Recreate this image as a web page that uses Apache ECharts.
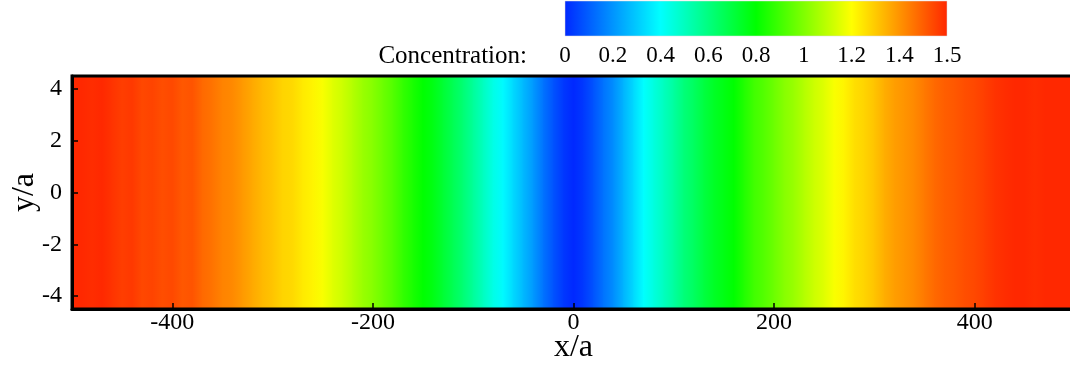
<!DOCTYPE html>
<html>
<head>
<meta charset="utf-8">
<script src="https://cdn.jsdelivr.net/npm/echarts@6/dist/echarts.min.js"></script>
<style>html,body{margin:0;padding:0;background:#fff}#c{width:1070px;height:366px}</style>
</head>
<body>
<div id="c"></div>
<script>
// x/a positions of the concentration profile samples
const xPositions = [-500,-490,-480,-470,-460,-450,-440,-430,-420,-410,-400,-390,-380,-370,-360,-350,-340,-330,-320,-310,-300,-290,-280,-270,-260,-250,-240,-230,-220,-210,-200,-190,-180,-170,-160,-150,-140,-130,-120,-110,-100,-90,-80,-70,-60,-50,-40,-30,-20,-10,0,10,20,30,40,50,60,70,80,90,100,110,120,130,140,150,160,170,180,190,200,210,220,230,240,250,260,270,280,290,300,310,320,330,340,350,360,370,380,390,400,410,420,430,440,450,460,470,480,490,500];
// concentration at each x/a
const concentration = [1.60,1.60,1.59,1.60,1.58,1.56,1.57,1.54,1.55,1.53,1.54,1.51,1.52,1.48,1.46,1.43,1.42,1.39,1.36,1.33,1.31,1.28,1.27,1.24,1.22,1.19,1.15,1.12,1.08,1.04,1.01,0.97,0.93,0.88,0.84,0.80,0.77,0.72,0.67,0.62,0.56,0.50,0.44,0.39,0.33,0.27,0.21,0.14,0.08,0.03,0.00,0.03,0.08,0.14,0.19,0.26,0.33,0.40,0.45,0.50,0.55,0.61,0.65,0.70,0.74,0.77,0.80,0.85,0.90,0.93,0.97,1.01,1.04,1.08,1.12,1.15,1.19,1.22,1.26,1.28,1.31,1.35,1.38,1.40,1.42,1.45,1.48,1.50,1.51,1.53,1.54,1.56,1.58,1.59,1.60,1.60,1.59,1.60,1.60,1.60,1.60];
const yRange = [-4.5, 4.5];
const xTicks = [-400, -200, 0, 200, 400];
const yTicks = [-4, -2, 0, 2, 4];
// colour legend: tick positions on the bar and the text printed there
const cbarTickPos = [0, 0.2, 0.4, 0.6, 0.8, 1, 1.2, 1.4, 1.6];
const cbarTickText = ['0', '0.2', '0.4', '0.6', '0.8', '1', '1.2', '1.4', '1.5'];
const cmapStops = [0, 0.4, 0.8, 1.2, 1.6];
const cmapColors = ['#0028ff', '#00ffff', '#00ff00', '#ffff00', '#ff2800'];
const cMin = 0, cMax = 1.6;

function hexToRgb(h){return [parseInt(h.slice(1,3),16),parseInt(h.slice(3,5),16),parseInt(h.slice(5,7),16)];}
function colorOf(v){
  if (v <= cmapStops[0]) return cmapColors[0];
  for (let i = 1; i < cmapStops.length; i++){
    if (v <= cmapStops[i]){
      const t = (v - cmapStops[i-1]) / (cmapStops[i] - cmapStops[i-1]);
      const a = hexToRgb(cmapColors[i-1]), b = hexToRgb(cmapColors[i]);
      return 'rgb(' + a.map((x,k)=>Math.round(x + (b[k]-x)*t)).join(',') + ')';
    }
  }
  return cmapColors[cmapColors.length-1];
}

const fieldData = [];
for (let i = 0; i < xPositions.length - 1; i++){
  fieldData.push([xPositions[i], concentration[i], xPositions[i+1], concentration[i+1]]);
}

const FONT = 'Liberation Serif';
const chart = echarts.init(document.getElementById('c'), null, {renderer:'canvas'});
chart.setOption({
  animation:false,
  backgroundColor:'#fff',
  grid:[
    {left:72, top:76, width:1003, height:233, show:true, borderColor:'#000', borderWidth:3,
     backgroundColor:'transparent', z:5, outerBoundsMode:'none', containLabel:false},
    {left:565, top:1, width:382, height:35, show:false, outerBoundsMode:'none', containLabel:false}
  ],
  xAxis:[
    {gridIndex:0, type:'value', min:-500, max:500, z:10,
     axisLine:{show:true, onZero:false, lineStyle:{color:'#000', width:3}},
     axisTick:{show:true, inside:true, length:6, customValues:xTicks, lineStyle:{color:'#000', width:1.5}},
     axisLabel:{customValues:xTicks, color:'#000', fontFamily:FONT, fontSize:24, margin:2},
     splitLine:{show:false},
     name:'x/a', nameLocation:'middle', nameGap:23, nameMoveOverlap:false,
     nameTextStyle:{color:'#000', fontFamily:FONT, fontSize:32}},
    {gridIndex:1, type:'value', min:cMin, max:cMax,
     axisLine:{show:false}, axisTick:{show:false}, splitLine:{show:false},
     axisLabel:{customValues:cbarTickPos, color:'#000', fontFamily:FONT, fontSize:23, margin:8,
       formatter:v=>{const i = cbarTickPos.findIndex(p=>Math.abs(p-v)<1e-6); return i>=0?cbarTickText[i]:'';}}}
  ],
  yAxis:[
    {gridIndex:0, type:'value', min:yRange[0], max:yRange[1], z:10,
     axisLine:{show:true, onZero:false, lineStyle:{color:'#000', width:3}},
     axisTick:{show:true, inside:true, length:6, customValues:yTicks, lineStyle:{color:'#000', width:1.5}},
     axisLabel:{customValues:yTicks, color:'#000', fontFamily:FONT, fontSize:24, margin:10},
     splitLine:{show:false},
     name:'y/a', nameLocation:'middle', nameGap:31, nameRotate:90, nameMoveOverlap:false,
     nameTextStyle:{color:'#000', fontFamily:FONT, fontSize:32}},
    {gridIndex:1, type:'value', min:0, max:1, show:false}
  ],
  graphic:[
    {type:'text', right:1070-527, top:44, style:{text:'Concentration:', fill:'#000', font:'25px "Liberation Serif"'}}
  ],
  series:[
    {type:'custom', xAxisIndex:0, yAxisIndex:0, data:fieldData, clip:true, z:1,
     renderItem:function(params, api){
       const p0 = api.coord([api.value(0), yRange[1]]);
       const p1 = api.coord([api.value(2), yRange[0]]);
       const c0 = colorOf(api.value(1)), c1 = colorOf(api.value(3));
       return {type:'rect', shape:{x:p0[0]-0.5, y:p0[1], width:p1[0]-p0[0]+1, height:p1[1]-p0[1]},
         style:{fill:new echarts.graphic.LinearGradient(0,0,1,0,[{offset:0,color:c0},{offset:1,color:c1}])}};
     }},
    {type:'custom', xAxisIndex:1, yAxisIndex:1, data:[[cMin, cMax]], z:1,
     renderItem:function(params, api){
       const p0 = api.coord([api.value(0), 1]);
       const p1 = api.coord([api.value(1), 0]);
       const stops = cmapStops.map((s,i)=>({offset:(s-cMin)/(cMax-cMin), color:cmapColors[i]}));
       return {type:'rect', shape:{x:p0[0], y:p0[1], width:p1[0]-p0[0], height:p1[1]-p0[1]},
         style:{fill:new echarts.graphic.LinearGradient(0,0,1,0,stops), stroke:'#d8d8d8', lineWidth:0.5}};
     }}
  ]
});
</script>
</body>
</html>
